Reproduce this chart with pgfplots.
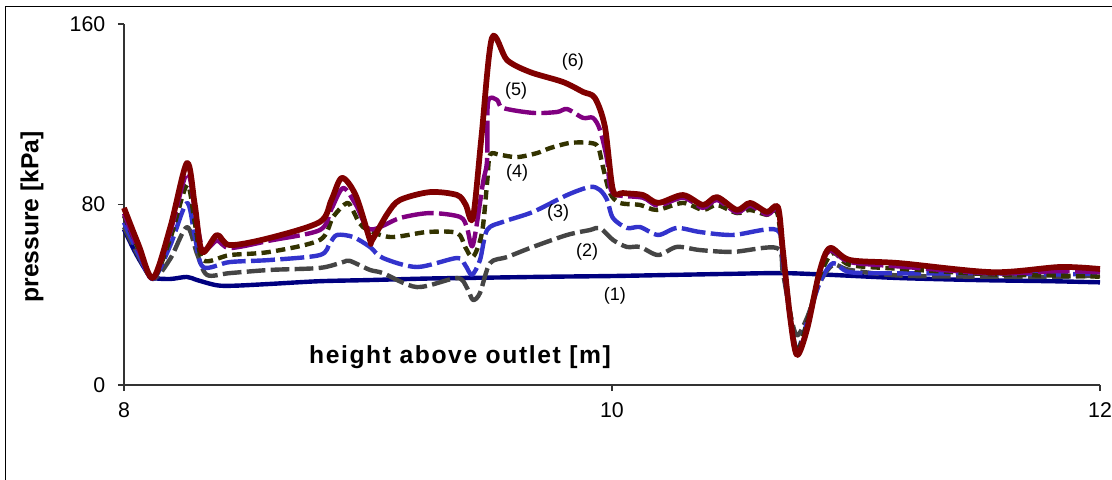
\documentclass[border=0pt]{standalone}
\usepackage{fontspec}
\setmainfont{Liberation Sans}
\newfontfamily\lsfont[LetterSpace=6.5]{Liberation Sans}
\usepackage{pgfplots}
\pgfplotsset{compat=1.18}
\definecolor{c1}{HTML}{000080}
\definecolor{c2}{HTML}{454545}
\definecolor{c3}{HTML}{3333CC}
\definecolor{c4}{HTML}{333300}
\definecolor{c5}{HTML}{800080}
\definecolor{c6}{HTML}{800000}
\begin{document}
\begin{tikzpicture}[x=1pt,y=1pt]
\useasboundingbox (-93pt,-70.5pt) rectangle (741pt,288.75pt);
\draw[line width=1.1pt,black] (-88.9pt,-120pt) rectangle (790pt,283.9pt);
\begin{axis}[
  at={(0,0)}, anchor=south west,
  scale only axis, width=732pt, height=270.75pt,
  xmin=8, xmax=12, ymin=0, ymax=160,
  axis x line*=bottom, axis y line*=left,
  axis line style={line width=0.8pt, black!80},
  xtick={8,10,12}, ytick={0,80,160},
  tick align=outside, major tick length=4.5pt,
  tick style={line width=0.8pt, black!80},
  minor tick num=0,
  /pgf/number format/assume math mode=true,
  ticklabel style={font=\fontsize{16}{19}\selectfont},
  xticklabel style={yshift=-5pt},
  yticklabel style={xshift=-6pt},
  clip=false,
  every axis plot/.append style={line join=round, line cap=butt, smooth, tension=0.5},
]
% (1)
\addplot[c1, line width=3.3pt] coordinates {
(8.000,69) (8.05,58) (8.10,49) (8.119,47.4) (8.19,47) (8.258,47.9) (8.30,46.5) (8.38,44.2) (8.45,44) (8.6,44.8) (8.8,46) (9.0,46.5) (9.25,47.2) (9.5,47.6) (9.75,48) (10.0,48.3) (10.25,48.8) (10.5,49.3) (10.7,49.6) (10.9,48.8) (11.18,47.4) (11.5,46.5) (11.8,46) (12,45.5)
};
% (2)
\addplot[c2, line width=3.3pt, dash pattern=on 14pt off 4pt] coordinates {
(8.000,70) (8.06,57) (8.119,47) (8.19,56) (8.258,70) (8.30,58) (8.340,48.8) (8.434,49.6) (8.598,51) (8.803,51.9) (8.898,54.5) (8.926,55) (9.008,51) (9.061,49.6) (9.201,43.4) (9.365,47.4) (9.406,43) (9.430,37.7) (9.459,40.8) (9.500,54) (9.570,56.7) (9.676,61.2) (9.816,66.5) (9.910,68.7) (9.951,69.6) (10.004,64.3) (10.061,61.2) (10.115,61.2) (10.189,57.6) (10.266,61.2) (10.361,59.8) (10.496,59) (10.676,60.7) (10.70,50) (10.73,32) (10.758,22) (10.80,30) (10.85,45) (10.906,53.2) (10.975,51) (11.180,48.5) (11.561,48) (11.836,48) (12,48.5)
};
% (3)
\addplot[c3, line width=3.3pt, dash pattern=on 18pt off 4pt] coordinates {
(8.000,72) (8.06,58) (8.119,47) (8.19,62) (8.258,80.7) (8.29,66) (8.324,52.3) (8.434,54.5) (8.598,55.4) (8.803,57.6) (8.844,62.9) (8.873,66.5) (8.939,65.6) (9.008,61.2) (9.061,56.3) (9.201,52.3) (9.365,56.3) (9.398,53.2) (9.426,48.8) (9.459,55.4) (9.488,68.7) (9.553,72.3) (9.676,76.7) (9.816,84.2) (9.910,87.8) (9.951,86.4) (9.980,82) (10.004,74) (10.061,69.6) (10.115,70) (10.189,66.5) (10.266,69.6) (10.361,67.8) (10.496,66.5) (10.676,68.7) (10.70,55) (10.73,30) (10.758,15.5) (10.80,28) (10.85,45) (10.906,54) (10.975,50) (11.180,49.5) (11.561,49.5) (11.836,49) (12,49.6)
};
% (4)
\addplot[c4, line width=3.3pt, dash pattern=on 7pt off 4pt] coordinates {
(8.000,75) (8.06,60) (8.119,47) (8.19,65) (8.258,88.6) (8.29,72) (8.324,55.4) (8.434,57.6) (8.598,59) (8.803,64.3) (8.857,74.5) (8.914,80.7) (8.940,77) (8.980,70) (9.090,65.6) (9.242,67.8) (9.365,67.4) (9.398,61.2) (9.430,56.7) (9.467,67.4) (9.488,89.5) (9.500,102) (9.541,102) (9.611,101) (9.693,102.8) (9.746,105) (9.828,107.3) (9.910,107.3) (9.943,105.5) (9.963,96.6) (9.992,85) (10.033,80.7) (10.115,79.8) (10.184,77.6) (10.291,80.7) (10.373,77.6) (10.430,79.8) (10.512,76.2) (10.566,77.6) (10.635,75.4) (10.676,76.7) (10.70,58) (10.73,32) (10.758,15) (10.80,28) (10.85,48) (10.906,58.5) (10.975,53.2) (11.180,51.5) (11.561,49) (11.836,48.5) (12,48)
};
% (5)
\addplot[c5, line width=3.3pt, dash pattern=on 24pt off 4pt] coordinates {
(8.000,76) (8.06,60) (8.119,47) (8.19,68) (8.258,94) (8.29,78) (8.324,60) (8.381,64) (8.434,60.7) (8.598,64) (8.803,68.7) (8.85,78) (8.898,87.3) (8.95,80) (9.008,69) (9.131,74) (9.254,76.2) (9.377,74.5) (9.406,69.6) (9.430,62) (9.471,89.5) (9.488,99.7) (9.492,125.4) (9.529,126.3) (9.553,122.8) (9.676,120.6) (9.775,121) (9.816,122.3) (9.881,118.4) (9.922,118.4) (9.951,113) (9.980,99.7) (9.992,87.8) (10.020,84.2) (10.127,83) (10.189,79.5) (10.291,83) (10.373,78.5) (10.430,82) (10.512,76.5) (10.566,79.5) (10.635,75.5) (10.680,77.5) (10.70,58) (10.73,30) (10.758,14) (10.80,26) (10.85,50) (10.893,59.5) (10.975,54.5) (11.180,52.5) (11.561,49.5) (11.836,50.5) (12,50)
};
% (6)
\addplot[c6, line width=4.3pt] coordinates {
(8.000,78.5) (8.060,62) (8.119,47.4) (8.19,70) (8.258,98.4) (8.29,80) (8.320,59) (8.381,66.5) (8.434,62) (8.598,65.2) (8.803,72.3) (8.85,82) (8.893,91.8) (8.95,84) (9.008,64.3) (9.016,64) (9.08,76) (9.131,82) (9.254,85.5) (9.365,84.2) (9.40,80) (9.430,74) (9.465,110) (9.508,153.8) (9.570,144) (9.664,138.7) (9.799,134.3) (9.881,129.9) (9.930,127.2) (9.971,114.4) (10.004,86.4) (10.045,85.1) (10.127,84.2) (10.189,80.7) (10.291,84.2) (10.373,79.8) (10.430,83.3) (10.512,77.6) (10.566,80.7) (10.635,76.7) (10.680,78.9) (10.70,60) (10.73,30) (10.758,13.3) (10.80,25) (10.85,50) (10.893,60.7) (10.975,55.4) (11.180,54) (11.561,50) (11.836,52.3) (12,51.4)
};
\begin{scope}[every node/.style={font=\fontsize{13.5}{16}\selectfont}]
\node at (axis cs:10.012,39.5) {(1)};
\node at (axis cs:9.898,59) {(2)};
\node at (axis cs:9.779,76.2) {(3)};
\node at (axis cs:9.611,94) {(4)};
\node at (axis cs:9.607,130.3) {(5)};
\node at (axis cs:9.84,143.2) {(6)};
\end{scope}
\node[font=\fontsize{18.5}{22}\lsfont\bfseries] at (axis cs:9.377,12.2) {height above outlet [m]};
\node[font=\fontsize{18.5}{22}\selectfont\bfseries, rotate=90] at ([xshift=-69pt]axis cs:8,74.5) {pressure [kPa]};
\end{axis}
\end{tikzpicture}
\end{document}
